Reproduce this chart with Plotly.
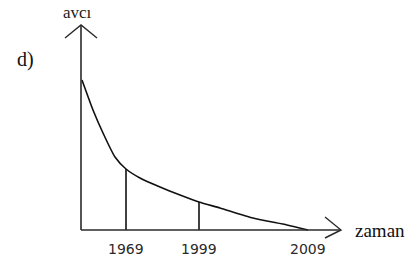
import plotly.graph_objects as go

# ---- data (sketch units: x = position along time axis, y = avcı level) ----
curve_x = [1, 12, 22, 34, 45, 59, 79, 99, 118, 139, 172, 206, 227]
curve_y = [150, 120, 97, 73, 61, 52, 43, 35, 28, 22, 12, 5, 0]

year_labels = ["1969", "1999", "2009"]
year_pos = [45, 118, 227]
year_level = [61, 28, 0]

y_axis_title = "avcı"
x_axis_title = "zaman"
panel_label = "d)"

# ---- figure ----
fig = go.Figure()

# vertical drop lines at the marked years
vx, vy = [], []
for p, h in zip(year_pos, year_level):
    if h > 0:
        vx += [p, p, None]
        vy += [0, h, None]
fig.add_trace(go.Scatter(x=vx, y=vy, mode="lines",
                         line=dict(color="#111111", width=1.6),
                         hoverinfo="skip", showlegend=False))

# decay curve
fig.add_trace(go.Scatter(x=curve_x, y=curve_y, mode="lines",
                         line=dict(color="#111111", width=1.6, shape="spline", smoothing=0.6),
                         showlegend=False))

line_col = "#2a2a2a"
shapes = [
    dict(type="line", x0=0, y0=0, x1=0, y1=205, line=dict(color=line_col, width=1.6)),
    dict(type="line", x0=0, y0=0, x1=260, y1=0, line=dict(color=line_col, width=1.6)),
    dict(type="path", path="M -16 192 L 0 205 L 16 192", line=dict(color=line_col, width=1.4)),
    dict(type="path", path="M 244 13 L 260 0 L 244 -8", line=dict(color=line_col, width=1.4)),
]

annotations = []
for lab, p in zip(year_labels, year_pos):
    annotations.append(dict(x=p, y=-19, text=lab, showarrow=False, xanchor="center", yanchor="middle",
                            font=dict(family="DejaVu Sans", size=14, color="#2a2a2a")))
annotations.append(dict(x=-4, y=218, text=y_axis_title, showarrow=False, xanchor="center", yanchor="middle",
                        font=dict(family="Liberation Serif", size=17, color="#222222")))
annotations.append(dict(x=299, y=0, text=x_axis_title, showarrow=False, xanchor="center", yanchor="middle",
                        font=dict(family="Liberation Serif", size=19, color="#111111")))
annotations.append(dict(x=-56, y=171, text=panel_label, showarrow=False, xanchor="center", yanchor="middle",
                        font=dict(family="Liberation Serif", size=20, color="#111111")))

fig.update_layout(
    width=412, height=262,
    margin=dict(l=0, r=0, t=0, b=0),
    paper_bgcolor="white", plot_bgcolor="white",
    xaxis=dict(range=[-81, 331], visible=False, fixedrange=True),
    yaxis=dict(range=[-32, 230], visible=False, fixedrange=True),
    shapes=shapes,
    annotations=annotations,
    showlegend=False,
)

fig.write_html("out.html", config={"displayModeBar": False},
               post_script="document.body.style.margin='0';document.body.style.overflow='hidden';")
